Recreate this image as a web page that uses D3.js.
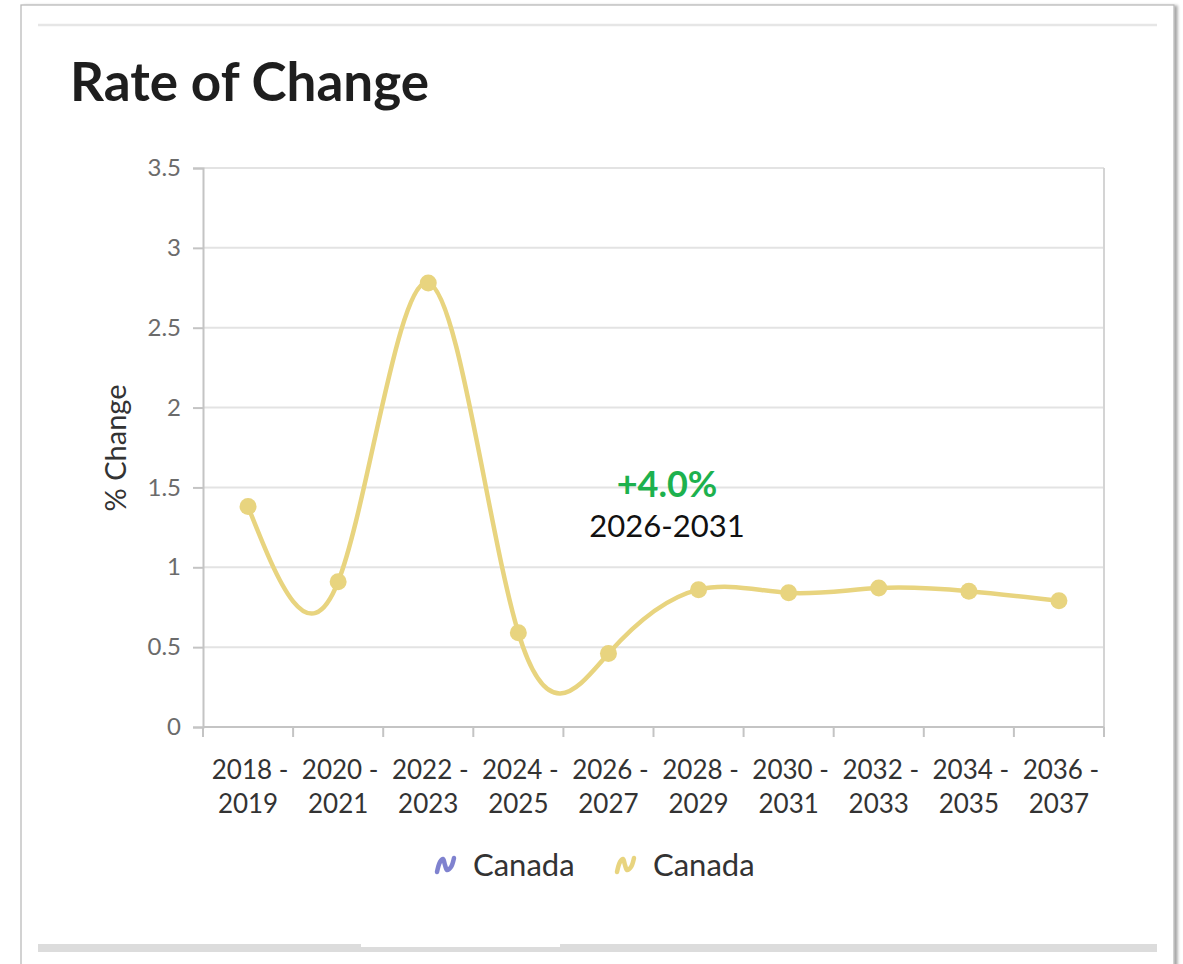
<!DOCTYPE html>
<html>
<head>
<meta charset="utf-8">
<script src="https://cdn.jsdelivr.net/npm/d3@7"></script>
<style>
  html, body { margin: 0; padding: 0; background: #ffffff; }
  svg { display: block; font-family: Lato, "Noto Sans", sans-serif; }
</style>
</head>
<body>
<svg id="chart" width="1183" height="964"></svg>
<script>
// Period labels (two lines each) and rate of change per period
const periodStart = ["2018", "2020", "2022", "2024", "2026", "2028", "2030", "2032", "2034", "2036"];
const periodEnd   = ["2019", "2021", "2023", "2025", "2027", "2029", "2031", "2033", "2035", "2037"];
const rateValues  = [1.38, 0.91, 2.78, 0.59, 0.46, 0.86, 0.84, 0.87, 0.85, 0.79];
const yTicks      = [0, 0.5, 1, 1.5, 2, 2.5, 3, 3.5];
const legendNames  = ["Canada", "Canada"];
const legendColors = ["#7f82cf", "#e8d47f"];
const summaryValue = "+4.0%";
const summaryRange = "2026-2031";

const svg = d3.select("#chart");

// Card frame
const defs = svg.append("defs");
const sh = defs.append("filter").attr("id", "shadow").attr("x", "-5%").attr("y", "-5%").attr("width", "110%").attr("height", "110%");
sh.append("feDropShadow").attr("dx", 3).attr("dy", 1).attr("stdDeviation", 1.5).attr("flood-color", "#000").attr("flood-opacity", 0.35);

svg.append("rect")
  .attr("x", 21).attr("y", 5).attr("width", 1153).attr("height", 975)
  .attr("fill", "#fff").attr("stroke", "#b5b5b5").attr("stroke-width", 1.2)
  .attr("filter", "url(#shadow)");

svg.append("line").attr("x1", 38).attr("x2", 1157).attr("y1", 25).attr("y2", 25)
  .attr("stroke", "#e6e6e6").attr("stroke-width", 2.5);

svg.append("rect").attr("x", 38).attr("y", 944).attr("width", 1119).attr("height", 8).attr("fill", "#dcdcdc");
svg.append("rect").attr("x", 361).attr("y", 944).attr("width", 199).attr("height", 3).attr("fill", "#ffffff");

// Title
svg.append("text").attr("x", 70).attr("y", 101)
  .attr("font-size", 53).attr("font-weight", 700).attr("fill", "#1e1e1e")
  .text("Rate of Change");

// Plot area
const plotLeft = 203, plotRight = 1104, plotTop = 168, plotBottom = 727;

const x = d3.scaleBand().domain(periodStart).range([plotLeft, plotRight]).padding(0);
const y = d3.scaleLinear().domain([0, 3.5]).range([plotBottom, plotTop]);

// Horizontal grid lines
svg.append("g").selectAll("line").data(yTicks.filter(d => d > 0)).join("line")
  .attr("x1", plotLeft).attr("x2", plotRight)
  .attr("y1", d => y(d)).attr("y2", d => y(d))
  .attr("stroke", "#e3e3e3").attr("stroke-width", 2);

// Right frame edge
svg.append("line").attr("x1", plotRight).attr("x2", plotRight).attr("y1", plotTop).attr("y2", plotBottom)
  .attr("stroke", "#d4d4d4").attr("stroke-width", 2);

// Y axis
const yAxis = svg.append("g").attr("transform", `translate(${plotLeft},0)`)
  .call(d3.axisLeft(y).tickValues(yTicks).tickSize(10).tickPadding(12).tickFormat(d3.format("~g")));
yAxis.select(".domain").attr("stroke", "#c4c4c4").attr("stroke-width", 2);
yAxis.selectAll(".tick line").attr("stroke", "#c4c4c4").attr("stroke-width", 2);
yAxis.selectAll(".tick text").attr("font-size", 24).attr("fill", "#6b6b6b")
  .attr("font-family", "Lato, sans-serif");

// X axis: ticks at band boundaries
const boundaries = periodStart.map(p => x(p)).concat([plotRight]);
svg.append("line").attr("x1", plotLeft).attr("x2", plotRight).attr("y1", plotBottom).attr("y2", plotBottom)
  .attr("stroke", "#c4c4c4").attr("stroke-width", 2);
svg.append("g").selectAll("line").data(boundaries).join("line")
  .attr("x1", d => d).attr("x2", d => d).attr("y1", plotBottom).attr("y2", plotBottom + 10)
  .attr("stroke", "#c4c4c4").attr("stroke-width", 2);

const xLabels = svg.append("g").selectAll("text").data(periodStart).join("text")
  .attr("text-anchor", "middle").attr("font-size", 26).attr("fill", "#333");
xLabels.append("tspan").attr("x", d => x(d) + x.bandwidth() / 2 + 2).attr("y", 779).text(d => d + " -");
xLabels.append("tspan").attr("x", d => x(d) + x.bandwidth() / 2).attr("y", 813)
  .text((d, i) => periodEnd[i]);

// Axis title
svg.append("text")
  .attr("transform", `translate(126,448) rotate(-90)`)
  .attr("text-anchor", "middle").attr("font-size", 29).attr("fill", "#333")
  .text("% Change");

// Series line
const pts = rateValues.map((v, i) => [x(periodStart[i]) + x.bandwidth() / 2, y(v)]);
const line = d3.line().curve(d3.curveNatural);
svg.append("path").attr("d", line(pts))
  .attr("fill", "none").attr("stroke", legendColors[1]).attr("stroke-width", 4.5)
  .attr("stroke-linecap", "round");
svg.append("g").selectAll("circle").data(pts).join("circle")
  .attr("cx", d => d[0]).attr("cy", d => d[1]).attr("r", 8.5)
  .attr("fill", legendColors[1]);

// Summary annotation
svg.append("text").attr("x", 667).attr("y", 497).attr("text-anchor", "middle")
  .attr("font-size", 36).attr("font-weight", 700).attr("fill", "#1db14e")
  .text(summaryValue);
svg.append("text").attr("x", 667).attr("y", 537).attr("text-anchor", "middle")
  .attr("font-size", 31).attr("fill", "#111")
  .text(summaryRange);

// Legend
const legendX = [435, 615];
const icon = d3.line().curve(d3.curveCatmullRom);
const iconPts = [[0, 7], [3, -3], [6, -6], [8, 0], [10, 5], [14, 2], [17, -7]];
const lg = svg.append("g").selectAll("g").data(legendNames).join("g")
  .attr("transform", (d, i) => `translate(${legendX[i]},866)`);
lg.append("path").attr("d", icon(iconPts)).attr("transform", "translate(2,-1)")
  .attr("fill", "none").attr("stroke", (d, i) => legendColors[i])
  .attr("stroke-width", 4.5).attr("stroke-linecap", "round").attr("stroke-linejoin", "round");
lg.append("text").attr("x", 38).attr("y", 10).attr("font-size", 31).attr("fill", "#333")
  .text(d => d);
</script>
</body>
</html>
